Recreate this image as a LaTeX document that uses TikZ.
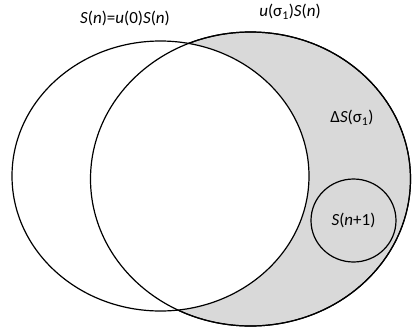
\documentclass[tikz,border=0pt]{standalone}
\usepackage{fontspec}
\setmainfont{Carlito}
\usepackage{tikz}
\usetikzlibrary{shapes.geometric, positioning}
\tikzset{
    setshape/.style={ellipse, draw=black, line width=1.2pt, inner sep=0pt, outer sep=0pt},
    setline/.style={draw=black, line width=1.2pt},
    shadefill/.style={fill=black!15},
    setlabel/.style={font=\fontsize{17}{20}\selectfont, inner sep=0pt},
}

\begin{document}
\begin{tikzpicture}[x=1pt, y=-1pt]
        \useasboundingbox (0,0) rectangle (413,330);

        % Sets
        \node[setshape, shadefill, minimum width=320pt, minimum height=294pt] (shifted) at (250.5,179) {};
        \node[setshape, fill=white, minimum width=297pt, minimum height=270pt] (base) at (160.5,176) {};
        \draw[setline] (shifted.center) ellipse [x radius=160pt, y radius=147pt];
        \node[setshape, shadefill, minimum width=85pt, minimum height=83pt] (next) at (353.5,220.5) {};

        % Labels
        \node[setlabel] (baselbl) at (125,18) {\textit{S}(\textit{n})=\textit{u}(0)\textit{S}(\textit{n})};
        \node[setlabel] (shiftlbl) at (290,12) {\textit{u}(σ\textsubscript{1})\textit{S}(\textit{n})};
        \node[setlabel] (difflbl) at (352,118) {Δ\textit{S}(σ\textsubscript{1})};
        \node[setlabel] (nextlbl) at (next.center) {\textit{S}(\textit{n}+1)};
    \end{tikzpicture}
\end{document}
